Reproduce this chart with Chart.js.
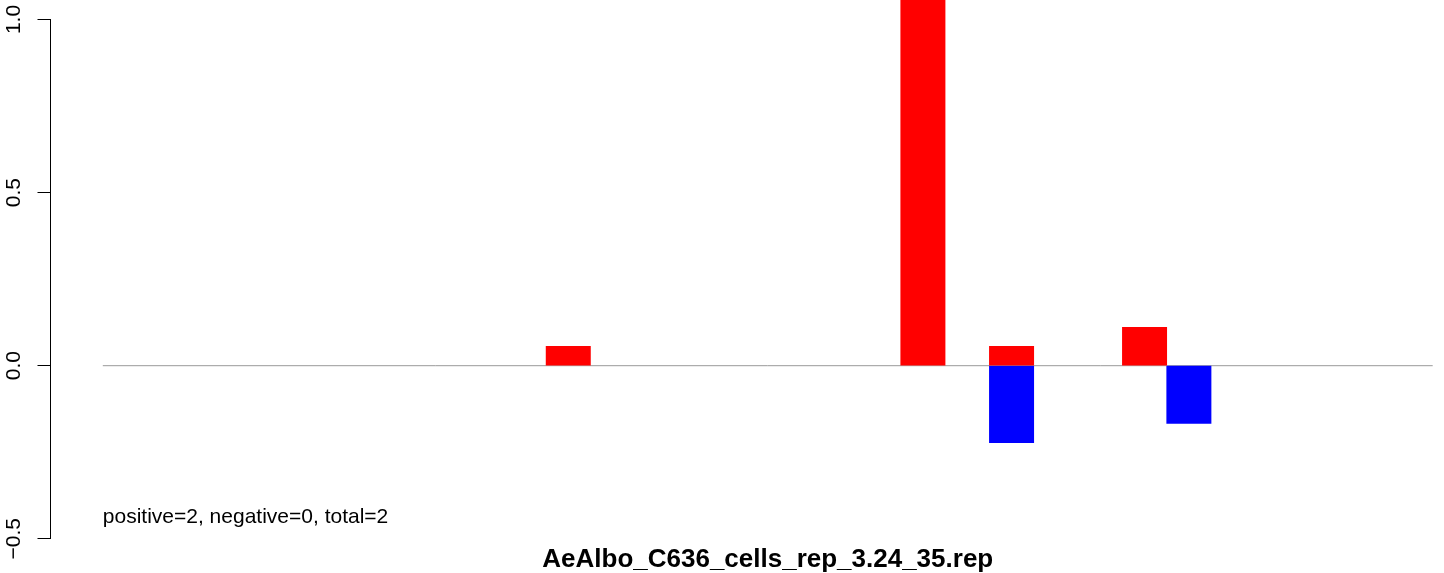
<!DOCTYPE html>
<html>
<head>
<meta charset="utf-8">
<script src="https://cdn.jsdelivr.net/npm/chart.js@4/dist/chart.umd.min.js"></script>
<style>
  html, body { margin: 0; padding: 0; background: #fff; }
  #wrap { width: 1444px; height: 573px; }
</style>
</head>
<body>
<div id="wrap"><canvas id="barCanvas"></canvas></div>
<script>
// 30 positions, red = positive ratio, blue = negative ratio
const positions = Array.from({ length: 30 }, (_, i) => i + 0.5);
const posValues = [0, 0, 0, 0, 0, 0, 0, 0, 0, 0,
                   0.0556, 0, 0, 0, 0, 0, 0, 0, 1.11, 0,
                   0.0556, 0, 0, 0.111, 0, 0, 0, 0, 0, 0];
const negValues = [0, 0, 0, 0, 0, 0, 0, 0, 0, 0,
                   0, 0, 0, 0, 0, 0, 0, 0, 0, 0,
                   -0.2222, 0, 0, 0, -0.1667, 0, 0, 0, 0, 0];
const yTicks = [-0.5, 0.0, 0.5, 1.0];
const noteText = "positive=2, negative=0, total=2";
const noteY = -0.454;
const chartTitle = "AeAlbo_C636_cells_rep_3.24_35.rep";

const FONT = "'Liberation Sans', Arial, Helvetica, sans-serif";

// R style texts: rotated y labels, note, and the title centred on the
// R plot region (which ran past the right edge of the device)
const rLabels = {
  id: "rLabels",
  afterDraw(chart) {
    const ctx = chart.ctx;
    const y = chart.scales.y;
    const x = chart.scales.x;
    ctx.save();
    ctx.fillStyle = "#000";
    ctx.font = "21px " + FONT;
    yTicks.forEach(v => {
      const txt = (v < 0 ? "\u2212" : "") + Math.abs(v).toFixed(1);
      ctx.save();
      ctx.translate(20, y.getPixelForValue(v));
      ctx.rotate(-Math.PI / 2);
      ctx.textAlign = "center";
      ctx.textBaseline = "alphabetic";
      ctx.fillText(txt, 0, 0);
      ctx.restore();
    });
    ctx.textAlign = "left";
    ctx.textBaseline = "alphabetic";
    ctx.fillText(noteText, x.getPixelForValue(0), y.getPixelForValue(noteY));

    ctx.font = "bold 26px " + FONT;
    ctx.textAlign = "center";
    ctx.fillText(chartTitle, x.getPixelForValue(15), chart.chartArea.bottom + 28.5);
    ctx.restore();
  }
};

const toBars = vals => positions.map((p, i) => ({ x: p, y: vals[i] === 0 ? null : vals[i] }));

const barCanvas = document.getElementById("barCanvas");

new Chart(barCanvas, {
  type: "bar",
  data: {
    datasets: [
      {
        type: "line",
        data: [{ x: 0, y: 0 }, { x: 30, y: 0 }],
        borderColor: "#999999",
        borderWidth: 1,
        pointRadius: 0,
        order: 2
      },
      {
        data: toBars(posValues),
        backgroundColor: "#ff0000",
        borderWidth: 0,
        barPercentage: 1,
        categoryPercentage: 1,
        clip: false,
        order: 1
      },
      {
        data: toBars(negValues),
        backgroundColor: "#0000ff",
        borderWidth: 0,
        barPercentage: 1,
        categoryPercentage: 1,
        clip: false,
        order: 1
      }
    ]
  },
  options: {
    responsive: true,
    maintainAspectRatio: false,
    animation: false,
    layout: { padding: { top: 19.5, right: 0, left: 0, bottom: 34.2 } },
    scales: {
      x: {
        type: "linear",
        display: false,
        stacked: true,
        offset: false,
        min: -1.18,
        max: 30.255
      },
      y: {
        stacked: true,
        min: -0.5,
        max: 1.0,
        ticks: { display: false, stepSize: 0.5 },
        grid: {
          drawOnChartArea: false,
          drawTicks: true,
          tickLength: 13,
          color: "#000",
          lineWidth: 1
        },
        border: { display: true, color: "#000", width: 1 },
        afterFit(scale) { scale.width = 50.5; }
      }
    },
    plugins: {
      legend: { display: false },
      tooltip: { enabled: false },
      title: { display: false }
    }
  },
  plugins: [rLabels]
});
</script>
</body>
</html>
